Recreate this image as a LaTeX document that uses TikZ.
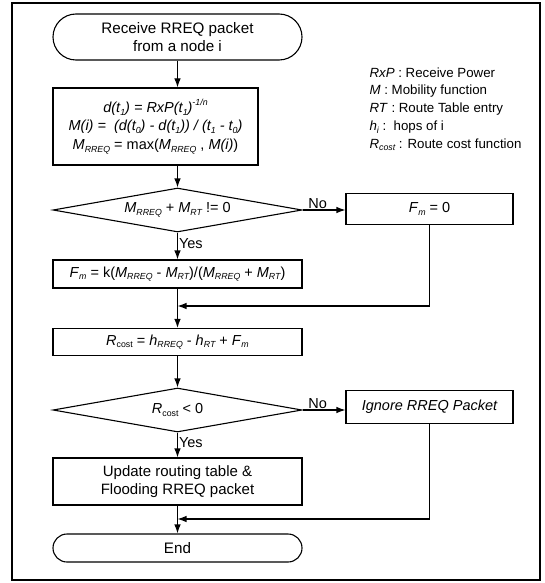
\documentclass[tikz,border=0pt]{standalone}
\usepackage{fontspec}
\setmainfont{Liberation Sans}
\usetikzlibrary{shapes.geometric,arrows.meta}
\newcommand{\lo}[1]{\raisebox{-0.35ex}{\fontsize{8.8}{10}\selectfont\itshape #1}}
\newcommand{\lou}[1]{\raisebox{-0.35ex}{\fontsize{8.8}{10}\selectfont #1}}
\newcommand{\hi}[1]{\raisebox{0.9ex}{\fontsize{8.8}{10}\selectfont\itshape #1}}
\newcommand{\Mr}{\textit{M}\lo{RREQ}}
\newcommand{\Mt}{\textit{M}\lo{RT}}

\begin{document}
\begin{tikzpicture}[x=1pt,y=-1pt,
  every node/.style={font=\fontsize{14.5}{18.5}\selectfont},
  proc/.style={draw,line width=1.1pt,minimum width=249pt,align=center,inner sep=2pt},
  term/.style={proc,rounded corners=#1,minimum height=2*#1,font=\fontsize{15.2}{18.5}\selectfont},
  decide/.style={draw,line width=1.1pt,shape=diamond,aspect=5.66,minimum width=249pt,minimum height=44pt,inner sep=0pt},
  arr/.style={line width=1.1pt,-{Latex[length=9pt,width=6.5pt]}},
  lbl/.style={inner sep=1pt}]
\useasboundingbox (0,0) rectangle (545,583);
\draw[line width=1.4pt] (12,3) rectangle (540,580);

\node[term=23pt] (start) at (177.5,37) {Receive RREQ packet\\from a node i};
\node[proc,minimum width=205pt,minimum height=77pt] (dist) at (155.5,126.5)
  {\itshape d(t\lo{1}) = RxP(t\lo{1})\hi{-1/n}\\
   \itshape M(i) =\ \ (d(t\lo{0}) - d(t\lo{1})) / (t\lo{1} - t\lo{0})\\
   \Mr{} = max(\Mr{} , \textit{M(i)})};
\node[decide] (chk) at (177.5,210) {\Mr{} + \Mt{} != 0};
\node[proc,minimum width=167pt,minimum height=31pt] (zero) at (429.5,209) {\textit{F}\lo{m} = 0};
\node[proc,minimum height=28pt] (fm) at (177.5,274) {\textit{F}\lo{m} = k(\Mr{} - \Mt)/(\Mr{} + \Mt)};
\coordinate (m1) at (177.5,306);
\node[proc,minimum height=27pt] (cost) at (177.5,342) {\textit{R}\lou{cost} = \textit{h}\lo{RREQ} - \textit{h}\lo{RT} + \textit{F}\lo{m}};
\node[decide] (neg) at (177.5,410) {\textit{R}\lou{cost} {\textless} 0};
\node[proc,minimum width=167pt,minimum height=33pt] (ign) at (429.5,407) {\itshape Ignore RREQ Packet};
\node[proc,minimum height=47pt,font=\fontsize{15}{18.5}\selectfont] (upd) at (177.5,481.5) {Update routing table \&\\Flooding RREQ packet};
\coordinate (m2) at (177.5,519);
\node[term=14pt] (end) at (177.5,548) {End};

\node[anchor=north west,align=left,font=\fontsize{13.3}{17.8}\selectfont] (legend) at (366,64)
  {\textit{RxP} : Receive Power\\
   \textit{M} : Mobility function\\
   \textit{RT} : Route Table entry\\
   \textit{h}\lo{i} :\ \ hops of i\\
   \textit{R}\lo{cost} : Route cost function};

\draw[arr] (start.south) -- (start.south |- dist.north);
\draw[arr] (chk.north |- dist.south) -- (chk.north);
\draw[arr] (chk.east) -- node[lbl,above,pos=0.35] {No} (chk.east -| zero.west);
\draw[arr] (chk.south) -- node[lbl,right,pos=0.4] {Yes} (fm.north);
\draw[arr] (zero.south) |- (m1);
\draw[arr] (fm.south) -- (cost.north);
\draw[arr] (cost.south) -- (neg.north);
\draw[arr] (neg.east) -- node[lbl,above,pos=0.35] {No} (neg.east -| ign.west);
\draw[arr] (neg.south) -- node[lbl,right,pos=0.4] {Yes} (upd.north);
\draw[arr] (ign.south) |- (m2);
\draw[arr] (upd.south) -- (end.north);
\end{tikzpicture}
\end{document}
